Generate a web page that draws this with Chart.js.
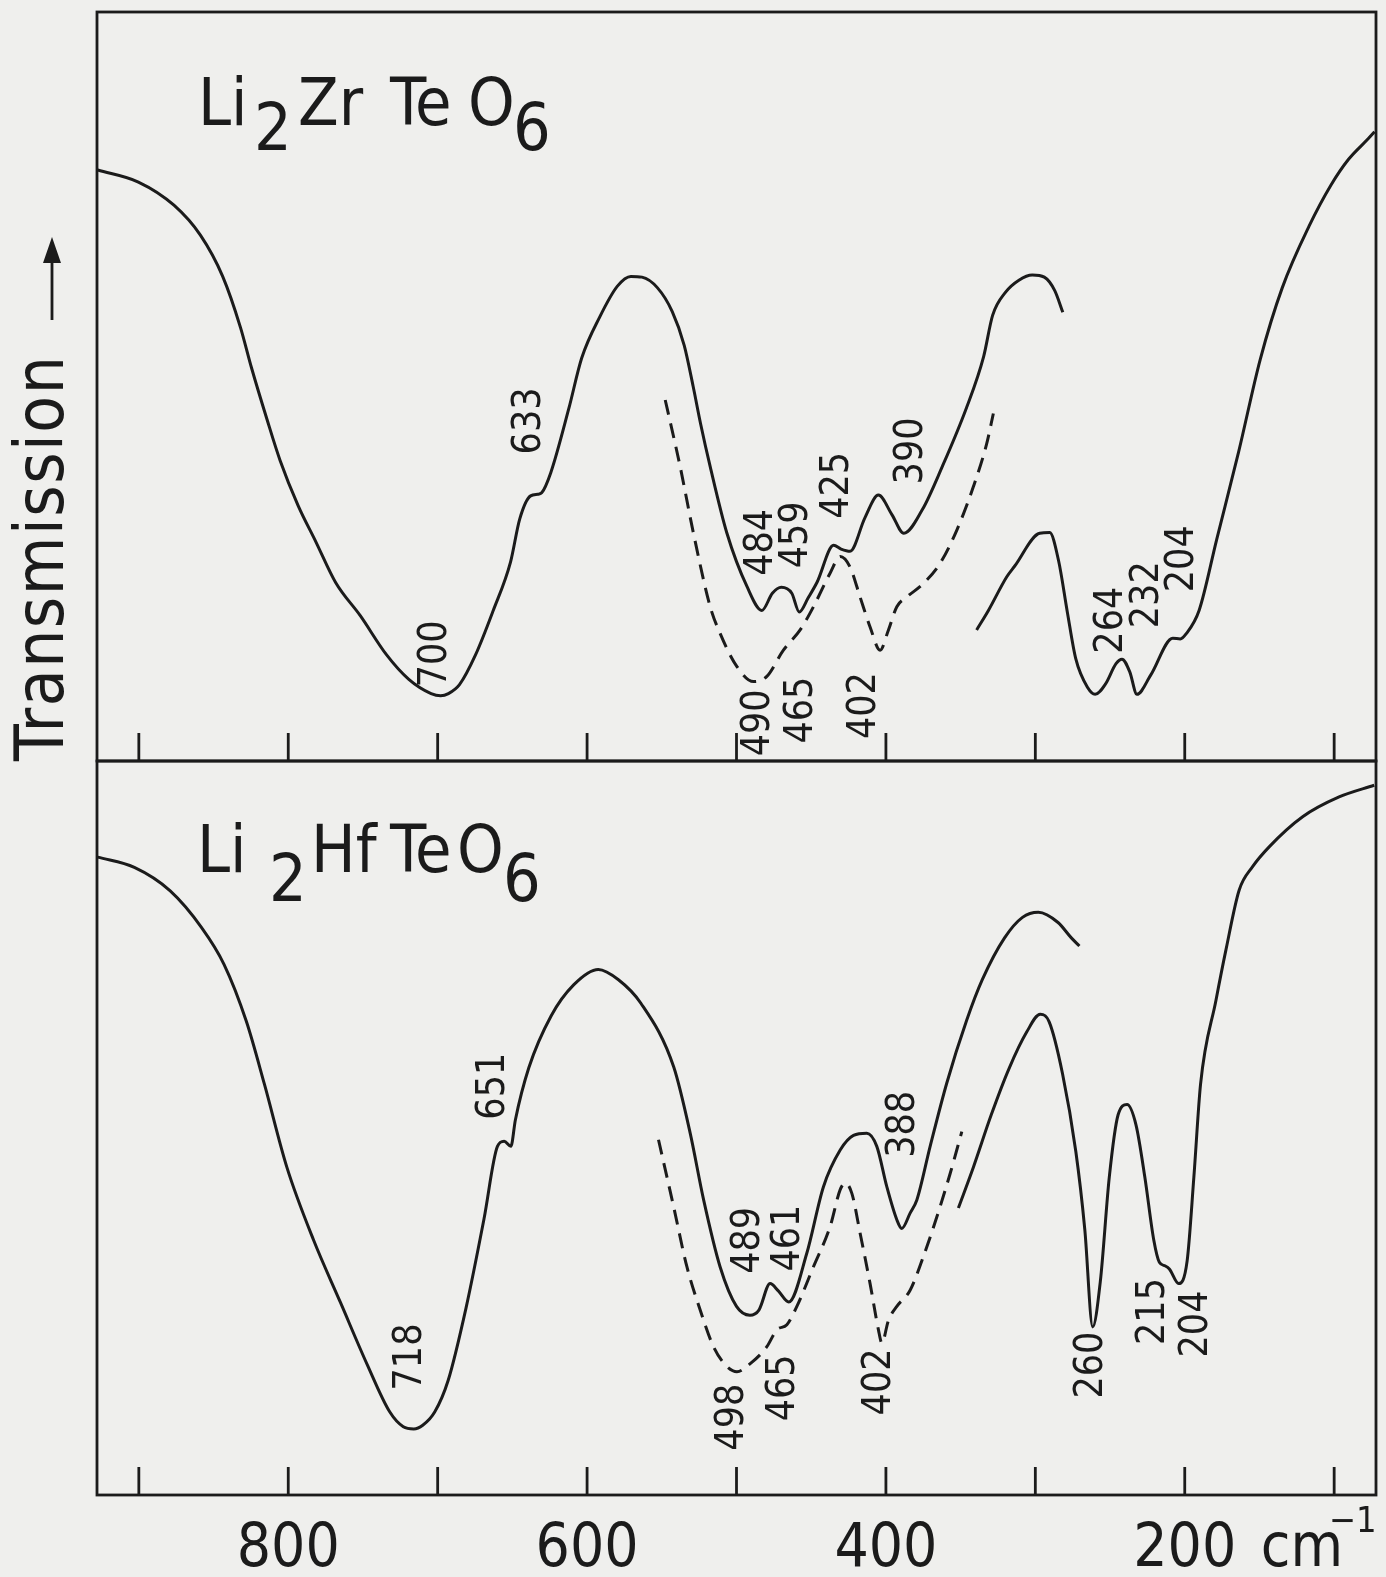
<!DOCTYPE html>
<html>
<head>
<meta charset="utf-8">
<script src="https://cdn.jsdelivr.net/npm/chart.js@4.4.1/dist/chart.umd.min.js"></script>
<style>
  html, body { margin: 0; padding: 0; background: #efefed; }
  body { width: 1386px; height: 1577px; position: relative; overflow: hidden; }
  canvas { position: absolute; left: 0; }
  #zrChart { top: 0; }
  #hfChart { top: 700px; }
</style>
</head>
<body>
<canvas id="zrChart" width="1386" height="800"></canvas>
<canvas id="hfChart" width="1386" height="877"></canvas>
<script>
// x axis: wavenumber in cm-1, drawn right to left
const tickValues = [900, 800, 700, 600, 500, 400, 300, 200, 100];
const tickLabelValues = [800, 600, 400, 200];
const tickLabels = ['800', '600', '400', '200'];

// Li2ZrTeO6, main trace
const zrMainNu = [927.5, 900.3, 876.5, 858.8, 843.9, 832.0, 824.6, 814.2, 805.4, 793.4, 781.6, 768.2, 751.8, 734.3, 719.3, 704.4, 698, 692.8, 685.4, 674.6, 662.8, 651.2, 645.1, 637.8, 633, 630.4, 624.3, 612.3, 603.6, 591.5, 579.7, 570.7, 563.3, 553, 543, 535, 529, 524, 517.6, 506.4, 493, 483, 476, 470, 463, 458, 452, 446, 435, 430, 424, 414, 405, 396, 388, 375.5, 362.3, 346.0, 334.6, 328.6, 319.9, 311, 302, 294, 287, 281.6];
const zrMainT = [78.9, 77.3, 74.2, 70.2, 64.7, 57.9, 52.5, 45.6, 40.1, 34.1, 29.3, 23.8, 19.4, 14.2, 10.9, 9.0, 8.7, 9.0, 10.2, 14.2, 20.1, 26.6, 32.3, 35.4, 35.6, 35.8, 38.5, 47.0, 53.8, 59.3, 63.4, 64.7, 64.6, 63.2, 60.0, 55.5, 50.0, 45.0, 39.3, 30.4, 23.3, 20.1, 22.4, 23.2, 22.4, 19.9, 21.8, 23.9, 28.8, 28.3, 28.0, 32.5, 35.5, 32.9, 30.4, 33.6, 39.3, 47.2, 54.0, 59.5, 62.6, 64.2, 64.9, 64.6, 62.8, 59.9];

// Li2ZrTeO6, low-frequency trace
const zrLowNu = [339.3, 331.4, 319.1, 313.9, 297.1, 290.4, 284.4, 278.6, 273, 265, 260, 253, 246, 242, 236.8, 232, 222.7, 208, 203, 199, 190.4, 178.6, 163.9, 149.5, 134.7, 116.8, 102.1, 90.5, 77.1, 73];
const zrLowT = [17.5, 20.1, 24.6, 26.0, 30.4, 30.5, 26.7, 19.9, 13.7, 9.8, 8.9, 10.3, 13.0, 13.6, 11.9, 8.9, 11.5, 16.4, 16.3, 17.0, 20.1, 29.6, 41.3, 53.6, 63.2, 71.4, 76.9, 80.3, 83.1, 84.0];

// Li2ZrTeO6, dashed trace
const zrDashNu = [547.7, 537.7, 528.8, 517.6, 510.9, 499.7, 488.6, 479.7, 468.6, 457.4, 448.5, 437.3, 430.6, 424, 417.3, 410.6, 403.9, 398.3, 392.7, 386, 374.9, 363.7, 352.6, 341.5, 332.5, 328.1];
const zrDashT = [48.2, 39.3, 30.4, 20.6, 17.0, 12.6, 10.6, 11.3, 14.8, 17.5, 20.6, 25.1, 27.3, 25.9, 21.9, 17.9, 14.8, 17.5, 20.6, 21.9, 23.7, 26.4, 30.8, 36.6, 42.4, 46.4];

// Li2HfTeO6, main trace
const hfMainNu = [927.5, 903, 879, 858, 843, 828, 816, 801, 783, 765, 747, 732, 723, 716, 710, 702, 693, 681, 669, 660, 655.5, 651, 648, 639, 624, 609, 592.5, 579, 564, 542, 531, 522, 511, 500, 491, 485, 477.5, 472, 465, 453, 441.8, 430.6, 421.7, 412.8, 406.1, 399.4, 392.7, 389.4, 383.8, 379.3, 370.4, 359.3, 345.9, 335.5, 320.6, 308.6, 298, 284.8, 275.9, 270.5];
const hfMainT = [86.9, 85.5, 82.3, 77.3, 72.3, 64.5, 56.0, 44.7, 34.7, 26.2, 17.7, 11.3, 9.3, 9.0, 9.5, 11.3, 15.6, 25.5, 37.6, 47.5, 48.2, 47.5, 51.1, 58.2, 65.3, 69.5, 71.6, 70.2, 67.0, 58.3, 49.3, 40.2, 31.1, 25.7, 24.5, 25.2, 28.8, 27.8, 26.3, 32.9, 42.0, 47.0, 49.0, 49.3, 47.5, 42.0, 37.5, 36.3, 38.4, 40.2, 47.5, 56.1, 64.7, 70.2, 75.9, 78.7, 79.4, 78.0, 75.9, 74.8];

// Li2HfTeO6, low-frequency trace
const hfLowNu = [351.5, 341.4, 329.5, 317.6, 305.7, 296.7, 290.8, 281.8, 272.9, 266.9, 261.6, 256.5, 250.5, 244.6, 238.6, 232.6, 226.7, 220.7, 217, 213, 210.3, 204.1, 198.4, 193.9, 189.4, 179.1, 172.4, 163.6, 154.6, 143.5, 121.1, 96.7, 73.2];
const hfLowT = [39.1, 44.7, 51.8, 58.1, 63.1, 65.5, 64.5, 57.4, 46.8, 36.2, 22.9, 29.1, 43.3, 51.8, 53.2, 50.4, 43.3, 34.7, 31.7, 31.2, 30.8, 28.8, 31.9, 43.3, 56.0, 67.4, 74.3, 82.4, 85.6, 88.3, 92.4, 95.1, 96.7];

// Li2HfTeO6, dashed trace
const hfDashNu = [552.2, 542.1, 533.2, 524.3, 515.4, 506.4, 499.7, 490.8, 479.7, 473, 466.3, 459.6, 448.5, 437.3, 430.6, 427.3, 422.8, 417.3, 410.6, 405, 402.7, 398.3, 392.7, 383.8, 374.9, 365.9, 357, 349.2];
const hfDashT = [48.4, 39.3, 31.1, 25.2, 20.2, 17.5, 16.8, 17.9, 20.2, 22.5, 23.2, 25.7, 31.1, 36.6, 41.6, 42.5, 41.1, 35.7, 28.8, 22.5, 20.7, 23.8, 25.7, 27.9, 32.5, 37.9, 43.8, 49.5];

// band labels, anchored at (wavenumber, transmission)
const zrBandText = ['700', '633', '484', '459', '425', '390', '490', '465', '402', '264', '232', '204'];
const zrBandNu = [701.2, 638, 483, 459.6, 432, 382.8, 485, 456, 414, 249, 225, 201.1];
const zrBandT = [14.3, 45.4, 29.2, 30.2, 36.8, 41.4, 5.1, 6.8, 7.4, 18.8, 22.2, 27.0];

const hfBandText = ['718', '651', '489', '461', '388', '498', '465', '402', '260', '215', '204'];
const hfBandNu = [718, 662.5, 492, 465, 388, 502.2, 468.1, 404, 262.4, 220.9, 192.1];
const hfBandT = [18.8, 55.7, 34.7, 35.0, 50.5, 10.6, 14.6, 15.4, 17.7, 25.0, 23.3];

const INK = '#1b1b1b';
const FONT = "'DejaVu Sans Condensed', 'DejaVu Sans', sans-serif";

function pairs(xs, ys) {
    return xs.map((x, i) => ({ x: x, y: ys[i] }));
}

function trace(xs, ys, dashed) {
    return {
        data: pairs(xs, ys),
        borderColor: INK,
        borderWidth: 3,
        borderDash: dashed ? [15, 9] : [],
        pointRadius: 0,
        fill: false,
        cubicInterpolationMode: 'monotone'
    };
}

// frame, inward ticks, band labels and lettering
const panelDecor = {
    id: 'panelDecor',
    afterDraw(chart, args, opts) {
        const ctx = chart.ctx;
        const a = chart.chartArea;
        const xs = chart.scales.x;
        const ys = chart.scales.y;
        ctx.save();
        ctx.strokeStyle = INK;
        ctx.fillStyle = INK;
        ctx.lineWidth = 2.8;
        ctx.strokeRect(a.left, a.top, a.right - a.left, a.bottom - a.top);

        tickValues.forEach(v => {
            const x = xs.getPixelForValue(v);
            ctx.beginPath();
            ctx.moveTo(x, a.bottom);
            ctx.lineTo(x, a.bottom - 28);
            ctx.stroke();
        });

        ctx.font = '39px ' + FONT;
        ctx.textAlign = 'center';
        ctx.textBaseline = 'middle';
        opts.bandText.forEach((t, i) => {
            const x = xs.getPixelForValue(opts.bandNu[i]);
            const y = ys.getPixelForValue(opts.bandT[i]);
            ctx.save();
            ctx.translate(x, y);
            ctx.rotate(-Math.PI / 2);
            ctx.fillText(t, 0, 0);
            ctx.restore();
        });

        // compound name
        ctx.textAlign = 'left';
        ctx.textBaseline = 'alphabetic';
        ctx.font = '66px ' + FONT;
        opts.title.forEach(p => {
            ctx.fillText(p[0], a.left + opts.titleX + p[1], a.top + opts.titleY + p[2]);
        });

        if (opts.yTitle) {
            ctx.save();
            ctx.translate(63, a.bottom);
            ctx.rotate(-Math.PI / 2);
            ctx.font = '67px ' + FONT;
            ctx.letterSpacing = '1.5px';
            ctx.fillText('Transmission', 0, 0);
            ctx.restore();
            ctx.beginPath();
            ctx.moveTo(52, 320);
            ctx.lineTo(52, 255);
            ctx.stroke();
            ctx.beginPath();
            ctx.moveTo(52, 237);
            ctx.lineTo(43, 263);
            ctx.lineTo(61, 263);
            ctx.closePath();
            ctx.fill();
        }

        if (opts.xLabels) {
            ctx.textAlign = 'center';
            ctx.font = '60px ' + FONT;
            tickLabelValues.forEach((v, i) => {
                ctx.fillText(tickLabels[i], xs.getPixelForValue(v), a.bottom + 71);
            });
            const x200 = xs.getPixelForValue(200);
            ctx.textAlign = 'left';
            ctx.fillText('cm', x200 + 76, a.bottom + 71);
            ctx.font = '36px ' + FONT;
            ctx.fillText('\u22121', x200 + 144, a.bottom + 37);
        }
        ctx.restore();
    }
};

function makePanel(id, datasets, padding, decor) {
    return new Chart(document.getElementById(id), {
        type: 'line',
        data: { datasets: datasets },
        options: {
            responsive: false,
            animation: false,
            devicePixelRatio: 1,
            layout: { padding: padding },
            plugins: {
                legend: { display: false },
                tooltip: { enabled: false },
                panelDecor: decor
            },
            scales: {
                x: { type: 'linear', min: 72, max: 928, reverse: true, display: false },
                y: { type: 'linear', min: 0, max: 100, display: false }
            }
        },
        plugins: [panelDecor]
    });
}

const zrChart = makePanel('zrChart', [
    trace(zrMainNu, zrMainT, false),
    trace(zrLowNu, zrLowT, false),
    trace(zrDashNu, zrDashT, true)
], { left: 97, right: 10, top: 12, bottom: 39 }, {
    bandText: zrBandText, bandNu: zrBandNu, bandT: zrBandT,
    title: [['Li', 0, 0], ['2', 56, 25], ['Zr', 100, 0], ['Te', 192, 0], ['O', 270, 0], ['6', 315, 25]],
    titleX: 101, titleY: 113,
    yTitle: true, xLabels: false
});

const hfChart = makePanel('hfChart', [
    trace(hfMainNu, hfMainT, false),
    trace(hfLowNu, hfLowT, false),
    trace(hfDashNu, hfDashT, true)
], { left: 97, right: 10, top: 61, bottom: 82 }, {
    bandText: hfBandText, bandNu: hfBandNu, bandT: hfBandT,
    title: [['Li', 0, 0], ['2', 72, 29], ['Hf', 114, 0], ['Te', 193, 0], ['O', 260, 0], ['6', 306, 29]],
    titleX: 100, titleY: 111,
    yTitle: false, xLabels: true
});
</script>
</body>
</html>
